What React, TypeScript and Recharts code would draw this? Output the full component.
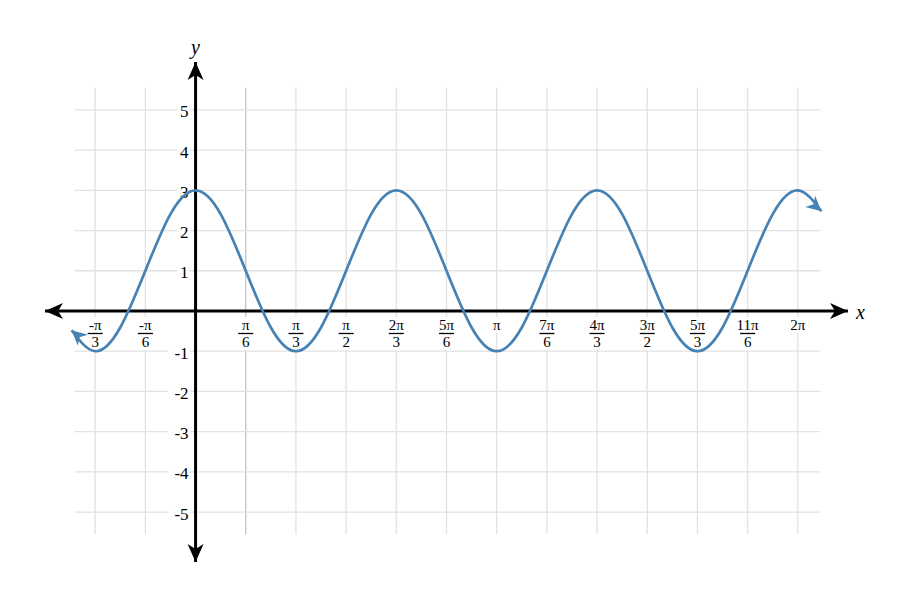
import React from 'react';
import {LineChart, Line, XAxis, YAxis, ReferenceLine, ReferenceDot} from 'recharts';

// x is measured in steps of pi/6
const xValues = [
  -2.47, -2, -1.5, -1, -0.5, 0, 0.5, 1, 1.5, 2, 2.5, 3, 3.5, 4, 4.5, 5, 5.5,
  6, 6.5, 7, 7.5, 8, 8.5, 9, 9.5, 10, 10.5, 11, 11.5, 12, 12.47,
];
const yValues = [
  -0.48,
  -1, -0.41, 1, 2.41, 3, 2.41, 1, -0.41,
  -1, -0.41, 1, 2.41, 3, 2.41, 1, -0.41,
  -1, -0.41, 1, 2.41, 3, 2.41, 1, -0.41,
  -1, -0.41, 1, 2.41, 3,
  2.48,
];

const xTickPos = [-2, -1, 1, 2, 3, 4, 5, 6, 7, 8, 9, 10, 11, 12];
const xTickNum = ['-π', '-π', 'π', 'π', 'π', '2π', '5π', 'π', '7π', '4π', '3π', '5π', '11π', '2π'];
const xTickDen = ['3', '6', '6', '3', '2', '3', '6', '', '6', '3', '2', '3', '6', ''];
const yTicks = [5, 4, 3, 2, 1, -1, -2, -3, -4, -5];

const gridX = [-2, -1, 0, 1, 2, 3, 4, 5, 6, 7, 8, 9, 10, 11, 12];
const gridY = [-5, -4, -3, -2, -1, 0, 1, 2, 3, 4, 5];

const data = xValues.map((x, i) => ({x, y: yValues[i]}));

const FONT = '"Liberation Serif", serif';
const BLUE = '#4682b4';

const XLabel = (props: any) => {
  const {cx, cy, num, den} = props;
  const w = num.length * 7.5 + 2;
  return (
    <g>
      <rect x={cx - w / 2 - 1} y={cy + 6} width={w + 2} height={den ? 33 : 16} fill="#fff" />
      <text x={cx} y={cy + 14} textAnchor="middle" dominantBaseline="central" fontFamily={FONT} fontSize={15} fill="#000">
        {num}
      </text>
      {den && (
        <>
          <line x1={cx - 7.5} x2={cx + 7.5} y1={cy + 22.5} y2={cy + 22.5} stroke="#000" strokeWidth={1.3} />
          <text x={cx} y={cy + 31.5} textAnchor="middle" dominantBaseline="central" fontFamily={FONT} fontSize={15} fill="#000">
            {den}
          </text>
        </>
      )}
    </g>
  );
};

const YLabel = (props: any) => {
  const {cx, cy, label} = props;
  const w = String(label).length * 8.5 + 2;
  return (
    <g>
      <rect x={cx - 8 - w} y={cy - 8} width={w + 2} height={18} fill="#fff" />
      <text x={cx - 7} y={cy + 2} textAnchor="end" dominantBaseline="central" fontFamily={FONT} fontSize={17} fill="#000">
        {label}
      </text>
    </g>
  );
};

const AxisHead = (props: any) => {
  const {cx, cy, angle} = props;
  return (
    <path
      d="M0,0 L-18,-8 L-13,0 L-18,8 Z"
      transform={`translate(${cx},${cy}) rotate(${angle})`}
      fill="#000"
    />
  );
};

const CurveEnd = (props: any) => {
  const {cx, cy, index, points} = props;
  const last = data.length - 1;
  if (index !== 0 && index !== last) return <g key={`d${index}`} />;
  let angle = index === 0 ? -138 : 41;
  if (points && points.length > 1) {
    const a = index === 0 ? points[1] : points[last - 1];
    angle = (Math.atan2(cy - a.y, cx - a.x) * 180) / Math.PI;
  }
  return (
    <path
      key={`d${index}`}
      d="M0,0 L-15,-7.5 L-10.5,0 L-15,7.5 Z"
      transform={`translate(${cx},${cy}) rotate(${angle})`}
      fill={BLUE}
    />
  );
};

const App = () => {
  return (
    <LineChart
      width={891}
      height={584}
      data={data}
      margin={{top: 54, right: 51, bottom: 30, left: 37}}
    >
      <XAxis type="number" dataKey="x" domain={[-3, 13]} hide />
      <YAxis type="number" domain={[-6.24, 6.19]} hide />

      {gridX.map(g => (
        <ReferenceLine
          key={`gx${g}`}
          segment={[{x: g, y: -5.55}, {x: g, y: 5.55}]}
          stroke={g === 1 ? '#c4c4c4' : '#e2e2e2'}
          strokeWidth={1.3}
          zIndex={-100}
        />
      ))}
      {gridY.map(g => (
        <ReferenceLine
          key={`gy${g}`}
          segment={[{x: -2.41, y: g}, {x: 12.45, y: g}]}
          stroke="#e2e2e2"
          strokeWidth={1.3}
          zIndex={-100}
        />
      ))}

      {xTickPos.map((t, i) => (
        <ReferenceDot
          key={`xl${t}`}
          x={t}
          y={0}
          r={0}
          ifOverflow="visible"
          zIndex={50}
          shape={(p: any) => <XLabel cx={p.cx} cy={p.cy} num={xTickNum[i]} den={xTickDen[i]} />}
        />
      ))}
      {yTicks.map(t => (
        <ReferenceDot
          key={`yl${t}`}
          x={0}
          y={t}
          r={0}
          ifOverflow="visible"
          zIndex={50}
          shape={(p: any) => <YLabel cx={p.cx} cy={p.cy} label={t} />}
        />
      ))}

      <ReferenceLine y={0} stroke="#000" strokeWidth={3} zIndex={100} />
      <ReferenceLine x={0} stroke="#000" strokeWidth={3} zIndex={100} />
      <ReferenceDot x={13} y={0} r={0} ifOverflow="visible" zIndex={100} shape={(p: any) => <AxisHead cx={p.cx} cy={p.cy} angle={0} />} />
      <ReferenceDot x={-3} y={0} r={0} ifOverflow="visible" zIndex={100} shape={(p: any) => <AxisHead cx={p.cx} cy={p.cy} angle={180} />} />
      <ReferenceDot x={0} y={6.19} r={0} ifOverflow="visible" zIndex={100} shape={(p: any) => <AxisHead cx={p.cx} cy={p.cy} angle={-90} />} />
      <ReferenceDot x={0} y={-6.24} r={0} ifOverflow="visible" zIndex={100} shape={(p: any) => <AxisHead cx={p.cx} cy={p.cy} angle={90} />} />
      <ReferenceDot
        x={13}
        y={0}
        r={0}
        ifOverflow="visible"
        zIndex={100}
        shape={(p: any) => (
          <text x={p.cx + 8} y={p.cy + 1} dominantBaseline="central" fontFamily={FONT} fontStyle="italic" fontSize={20} fill="#000">
            x
          </text>
        )}
      />
      <ReferenceDot
        x={0}
        y={6.19}
        r={0}
        ifOverflow="visible"
        zIndex={100}
        shape={(p: any) => (
          <text x={p.cx} y={p.cy - 15} textAnchor="middle" dominantBaseline="central" fontFamily={FONT} fontStyle="italic" fontSize={20} fill="#000">
            y
          </text>
        )}
      />

      <Line
        type="natural"
        dataKey="y"
        stroke={BLUE}
        strokeWidth={2.7}
        dot={CurveEnd}
        activeDot={false}
        isAnimationActive={false}
        zIndex={400}
      />
    </LineChart>
  );
};

export default App;
